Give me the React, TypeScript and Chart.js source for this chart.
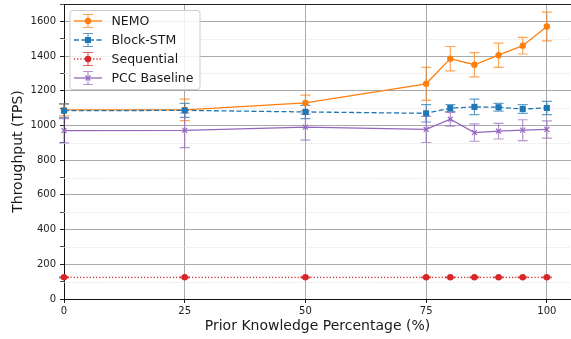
import React, { useEffect, useRef } from "react";
import { Chart, registerables } from "chart.js";

Chart.register(...registerables);

const xValues = [0, 25, 50, 75, 80, 85, 90, 95, 100];
const nemo = [1090, 1090, 1130, 1240, 1385, 1350, 1405, 1460, 1570];
const nemoErr = [35, 62, 45, 95, 70, 70, 70, 48, 83];
const blockStm = [1085, 1087, 1078, 1070, 1100, 1107, 1105, 1095, 1101];
const blockStmErr = [40, 40, 38, 50, 20, 45, 22, 25, 38];
const sequential = [125, 125, 125, 125, 125, 125, 125, 125, 125];
const sequentialErr = [3, 3, 3, 3, 3, 3, 3, 3, 3];
const pcc = [970, 972, 990, 977, 1036, 959, 967, 973, 977];
const pccErr = [70, 100, 75, 75, 40, 50, 45, 60, 50];

const xTicks = [0, 25, 50, 75, 100];
const yMajorStep = 200;

const FONT = "'DejaVu Sans', sans-serif";

const series = [
  { label: "NEMO", data: nemo, err: nemoErr, color: "#ff7f0e", dash: [] as number[], style: "circle", radius: 3.2 },
  { label: "Block-STM", data: blockStm, err: blockStmErr, color: "#1f77b4", dash: [5, 2.5], style: "rect", radius: 4.3 },
  { label: "Sequential", data: sequential, err: sequentialErr, color: "#d62728", dash: [1.2, 2], style: "circle", radius: 3.2 },
  { label: "PCC Baseline", data: pcc, err: pccErr, color: "#9467bd", dash: [] as number[], style: "crossRot", radius: 3.5 },
];

function hexA(hex: string, a: number) {
  const r = parseInt(hex.slice(1, 3), 16);
  const g = parseInt(hex.slice(3, 5), 16);
  const b = parseInt(hex.slice(5, 7), 16);
  return `rgba(${r},${g},${b},${a})`;
}

function drawMarker(ctx: CanvasRenderingContext2D, style: string, x: number, y: number, r: number, color: string) {
  ctx.save();
  ctx.fillStyle = color;
  ctx.strokeStyle = color;
  ctx.lineWidth = 1.2;
  ctx.setLineDash([]);
  if (style === "circle") {
    ctx.beginPath();
    ctx.arc(x, y, r, 0, Math.PI * 2);
    ctx.fill();
  } else if (style === "rect") {
    const s = r * Math.SQRT1_2;
    ctx.fillRect(x - s, y - s, 2 * s, 2 * s);
  } else {
    const s = r * Math.SQRT1_2;
    ctx.beginPath();
    ctx.moveTo(x - s, y - s);
    ctx.lineTo(x + s, y + s);
    ctx.moveTo(x + s, y - s);
    ctx.lineTo(x - s, y + s);
    ctx.stroke();
  }
  ctx.restore();
}

const backgroundPlugin = {
  id: "bgMinor",
  beforeDatasetsDraw(chart: any) {
    const { ctx, chartArea, scales } = chart;
    const y = scales.y;
    ctx.save();
    ctx.strokeStyle = "#d4d4d4";
    ctx.lineWidth = 0.8;
    ctx.setLineDash([1, 1.6]);
    for (let v = 100; v < 1700; v += 200) {
      const py = Math.round(y.getPixelForValue(v)) + 0.5;
      ctx.beginPath();
      ctx.moveTo(chartArea.left, py);
      ctx.lineTo(chartArea.right, py);
      ctx.stroke();
    }
    ctx.restore();
  },
};

const errorBarPlugin = {
  id: "errorBars",
  beforeDatasetsDraw(chart: any) {
    const { ctx, scales } = chart;
    const xs = scales.x;
    const ys = scales.y;
    ctx.save();
    series.forEach((s) => {
      ctx.strokeStyle = hexA(s.color, 0.7);
      ctx.lineWidth = 1.2;
      ctx.setLineDash([]);
      s.data.forEach((v, j) => {
        const px = xs.getPixelForValue(xValues[j]);
        const top = ys.getPixelForValue(v + s.err[j]);
        const bot = ys.getPixelForValue(v - s.err[j]);
        ctx.beginPath();
        ctx.moveTo(px, top);
        ctx.lineTo(px, bot);
        ctx.moveTo(px - 5, top);
        ctx.lineTo(px + 5, top);
        ctx.moveTo(px - 5, bot);
        ctx.lineTo(px + 5, bot);
        ctx.stroke();
      });
    });
    ctx.restore();
  },
};

const framePlugin = {
  id: "frameLegend",
  afterDraw(chart: any) {
    const { ctx, chartArea } = chart;
    ctx.save();
    ctx.strokeStyle = "#222";
    ctx.lineWidth = 1;
    ctx.beginPath();
    ctx.moveTo(chartArea.left, chartArea.top + 0.5);
    ctx.lineTo(chartArea.right, chartArea.top + 0.5);
    ctx.stroke();

    // legend
    const lx = 70, ly = 10.5, lw = 130, lh = 79;
    const r = 3;
    ctx.fillStyle = "rgba(255,255,255,0.85)";
    ctx.strokeStyle = "#cccccc";
    ctx.lineWidth = 1;
    ctx.beginPath();
    ctx.moveTo(lx + r, ly);
    ctx.lineTo(lx + lw - r, ly);
    ctx.quadraticCurveTo(lx + lw, ly, lx + lw, ly + r);
    ctx.lineTo(lx + lw, ly + lh - r);
    ctx.quadraticCurveTo(lx + lw, ly + lh, lx + lw - r, ly + lh);
    ctx.lineTo(lx + r, ly + lh);
    ctx.quadraticCurveTo(lx, ly + lh, lx, ly + lh - r);
    ctx.lineTo(lx, ly + r);
    ctx.quadraticCurveTo(lx, ly, lx + r, ly);
    ctx.closePath();
    ctx.fill();
    ctx.stroke();

    const rows = [21, 40, 59, 78];
    series.forEach((s, i) => {
      const yy = rows[i];
      ctx.strokeStyle = s.color;
      ctx.lineWidth = 1.3;
      ctx.setLineDash(s.dash);
      ctx.beginPath();
      ctx.moveTo(74, yy);
      ctx.lineTo(102, yy);
      ctx.stroke();
      ctx.setLineDash([]);
      ctx.strokeStyle = hexA(s.color, 0.7);
      ctx.lineWidth = 1.2;
      ctx.beginPath();
      ctx.moveTo(88, yy - 6.5);
      ctx.lineTo(88, yy + 6.5);
      ctx.moveTo(83, yy - 6.5);
      ctx.lineTo(93, yy - 6.5);
      ctx.moveTo(83, yy + 6.5);
      ctx.lineTo(93, yy + 6.5);
      ctx.stroke();
      drawMarker(ctx, s.style, 88, yy, s.radius, s.color);
      ctx.fillStyle = "#1a1a1a";
      ctx.font = `12.5px ${FONT}`;
      ctx.textBaseline = "middle";
      ctx.textAlign = "left";
      ctx.fillText(s.label, 111.5, yy + 0.5);
    });
    ctx.restore();
  },
};

export default function App() {
  const ref = useRef<HTMLCanvasElement | null>(null);
  useEffect(() => {
    if (!ref.current) return;
    const chart = new Chart(ref.current, {
      type: "line",
      data: {
        datasets: series.map((s, i) => ({
          label: s.label,
          data: s.data.map((v, j) => ({ x: xValues[j], y: v })),
          borderColor: s.color,
          backgroundColor: s.color,
          borderWidth: 1.3,
          borderDash: s.dash,
          pointStyle: s.style as any,
          pointRadius: s.radius,
          pointBorderWidth: s.style === "crossRot" ? 1.2 : 0,
          pointBackgroundColor: s.color,
          pointBorderColor: s.color,
          tension: 0,
          order: 4 - i,
          clip: false as any,
        })),
      },
      options: {
        animation: false,
        responsive: false,
        maintainAspectRatio: false,
        layout: { autoPadding: false, padding: { top: 4, right: 0, left: 0, bottom: 0 } },
        plugins: {
          legend: { display: false },
          tooltip: { enabled: false },
        },
        scales: {
          x: {
            type: "linear",
            min: 0,
            max: 105,
            afterBuildTicks: (scale: any) => {
              scale.ticks = xTicks.map((v) => ({ value: v }));
            },
            afterFit: (scale: any) => {
              scale.height = 40;
              scale.paddingLeft = 0;
              scale.paddingRight = 0;
            },
            ticks: {
              font: { family: FONT, size: 10 },
              color: "#222",
              padding: 2,
              autoSkip: false,
              maxRotation: 0,
            },
            grid: {
              color: "#a9a9a9",
              lineWidth: 1,
              tickLength: 4,
              tickColor: "#222",
            },
            border: { color: "#111", width: 1 },
            title: {
              display: true,
              text: "Prior Knowledge Percentage (%)",
              font: { family: FONT, size: 14 },
              color: "#1a1a1a",
              padding: { top: 0, bottom: 4 },
            },
          },
          y: {
            type: "linear",
            min: 0,
            max: 1700,
            afterFit: (scale: any) => {
              scale.width = 64;
              scale.paddingTop = 0;
              scale.paddingBottom = 0;
            },
            ticks: {
              stepSize: 100,
              autoSkip: false,
              font: { family: FONT, size: 10 },
              color: "#222",
              padding: 4,
              callback: (v: any) => (Number(v) % yMajorStep === 0 ? String(v) : ""),
            },
            grid: {
              color: (c: any) => (c.tick && c.tick.value % yMajorStep === 0 && c.tick.value !== 0 ? "#a9a9a9" : "transparent"),
              lineWidth: 1,
              tickLength: 4,
              tickColor: "#222",
              tickWidth: (c: any) => (c.tick && c.tick.value % yMajorStep === 0 ? 1 : 0.8),
            },
            border: { color: "#111", width: 1 },
            title: {
              display: true,
              text: "Throughput (TPS)",
              font: { family: FONT, size: 14 },
              color: "#1a1a1a",
              padding: { top: 10, bottom: 0 },
            },
          },
        },
      },
      plugins: [backgroundPlugin, errorBarPlugin, framePlugin],
    });
    return () => chart.destroy();
  }, []);
  return (
    <div style={{ position: "fixed", left: 0, top: 0, width: 571, height: 339, background: "#fff" }}>
      <canvas ref={ref} width={571} height={339} style={{ width: 571, height: 339, display: "block" }} />
    </div>
  );
}
